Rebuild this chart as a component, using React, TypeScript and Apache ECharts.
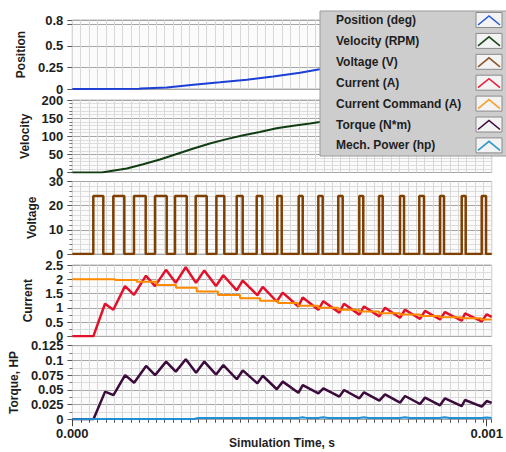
import React, { useEffect, useRef } from "react";
import * as echarts from "echarts";

// ---------- data (time in microseconds) ----------
const positionUs = [0, 160, 163, 225, 289, 352, 416, 479, 543, 590, 700, 800, 900, 1000];
const positionVal = [0, 0.002, 0.006, 0.018, 0.05, 0.077, 0.108, 0.146, 0.188, 0.23, 0.3, 0.37, 0.44, 0.52];

const velocityUs = [0, 70, 130, 169, 209, 249, 289, 328, 368, 408, 447, 487, 527, 567, 590, 700, 800, 900, 1000];
const velocityRpm = [0, 0, 11, 23, 36, 51, 66, 80, 92, 103, 112, 122, 129, 135, 139, 150, 158, 163, 167];

const pwmRiseUs = [50.1, 97.8, 147.1, 197.2, 244.9, 294.2, 343.6, 392.0, 439.7, 488.8, 539.8, 586.6, 634.2, 684.3, 731.3, 781.4, 827.4, 876.7, 928.5, 976.2];
const pwmFallUs = [73.9, 124.0, 175.0, 225.1, 272.8, 320.5, 362.4, 406.3, 453.0, 499.3, 549.4, 597.0, 644.7, 693.8, 740.1, 791.0, 838.6, 886.3, 938.0, 986.5];
const pwmHighV = 24;

const currentUs = [0, 50.1, 78.0, 97.8, 125.7, 147.1, 175.7, 197.2, 223.4, 246.5, 270.4, 294.9, 314.7, 342.6, 360.0, 392.0, 406.3, 441.1, 454.0, 487.4, 501.7, 538.9, 549.4, 586.6, 598.5, 636.6, 647.8, 684.3, 695.5, 732.0, 745.6, 781.4, 793.3, 829.1, 841.0, 876.7, 888.6, 928.5, 936.3, 976.2, 988.1, 1000];
const currentA = [0, 0, 1.14, 0.93, 1.76, 1.45, 2.125, 1.76, 2.33, 1.875, 2.42, 1.875, 2.31, 1.76, 2.14, 1.61, 1.95, 1.44, 1.73, 1.22, 1.53, 1.045, 1.36, 0.93, 1.23, 0.83, 1.14, 0.76, 1.045, 0.7, 1.0, 0.65, 0.93, 0.61, 0.89, 0.59, 0.85, 0.545, 0.8, 0.52, 0.77, 0.68];
const torqueNm = [0, 0, 0.047, 0.041, 0.075, 0.062, 0.0906, 0.075, 0.098, 0.081, 0.102, 0.079, 0.098, 0.076, 0.092, 0.068, 0.083, 0.061, 0.074, 0.051, 0.064, 0.045, 0.058, 0.044, 0.0526, 0.0385, 0.0498, 0.0356, 0.0458, 0.0317, 0.0424, 0.0283, 0.0396, 0.026, 0.0368, 0.0238, 0.0356, 0.0225, 0.0328, 0.0215, 0.031, 0.028];

const commandUs = [0, 101.8, 153.6, 201.2, 247.3, 296.6, 347.4, 399.9, 447.6, 490.5, 538.2, 586.0, 633.7, 683.6, 731.3, 781.4, 829.1, 876.7, 926.8, 974.5, 1000];
const commandA = [2.0, 1.97, 1.91, 1.8, 1.7, 1.57, 1.45, 1.33, 1.25, 1.17, 1.07, 1.0, 0.93, 0.87, 0.81, 0.76, 0.71, 0.67, 0.63, 0.59, 0.59];

const powerUs = [0, 95, 290, 300, 540, 549, 558, 586, 598, 610, 684, 695, 706, 781, 793, 805, 876, 888, 900, 976, 988, 1000];
const powerHp = [0, 0.0003, 0.0006, 0.0022, 0.0024, 0.0036, 0.0024, 0.0023, 0.0035, 0.0023, 0.0022, 0.0034, 0.0022, 0.0022, 0.0033, 0.0022, 0.0021, 0.0033, 0.0021, 0.0021, 0.0032, 0.0021];

const legendLabels = ["Position (deg)", "Velocity (RPM)", "Voltage (V)", "Current (A)", "Current Command (A)", "Torque (N*m)", "Mech. Power (hp)"];
const seriesColors = ["#1c3fd6", "#123d12", "#7f3f00", "#e3102a", "#ff8a00", "#3b0b3b", "#1f8fd6"];
const legendIconColors = ["#2a5ad8", "#1d4a1d", "#8b5a2b", "#e8203a", "#f5a030", "#3a0a3a", "#3098c8"];

const xTickLabels = ["0.000", "0.001"];

// ---------- helpers ----------
const toS = (t: number) => t * 1e-6;
const pairs = (ts: number[], vs: number[]) => ts.map((t, i) => [toS(t), vs[i]]);

const FONT = "Liberation Sans, Arial, sans-serif";
const TXT = "#1e1e1e";

export default function App() {
  const ref = useRef<HTMLDivElement>(null);

  useEffect(() => {
    document.body.style.margin = "0";
    if (!ref.current) return;
    const chart = echarts.init(ref.current, undefined, { renderer: "svg" });

    const pwmData: number[][] = [[0, 0]];
    pwmRiseUs.forEach((r, i) => {
      const f = pwmFallUs[i];
      pwmData.push([toS(r), 0], [toS(r), pwmHighV], [toS(f), pwmHighV], [toS(f), 0]);
    });
    pwmData.push([toS(1000), 0]);

    const cmdData = pairs(commandUs, commandA);

    const L = 72.3;
    const R = 506 - 491.7;
    const panels = [
      { top: 20, height: 69 },
      { top: 100, height: 72.5 },
      { top: 181.5, height: 72.5 },
      { top: 265, height: 71.3 },
      { top: 345.7, height: 73.6 },
    ];
    const grids: any[] = panels.map((p) => ({
      left: L,
      right: R,
      top: p.top,
      height: p.height,
      show: true,
      backgroundColor: "#fbfbfb",
      borderColor: "#b4b4b4",
      borderWidth: 1,
    }));
    grids.push({ left: L, right: R, top: panels[4].top, height: panels[4].height, show: false });

    const xAxes: any[] = panels.map((_, i) => ({
      gridIndex: i,
      type: "value",
      min: 0,
      max: 0.001,
      interval: 0.00002,
      axisLabel: { show: false },
      axisLine: { show: false },
      axisTick: { show: i === 4, length: 3.5, lineStyle: { color: "#555" } },
      splitLine: { show: true, lineStyle: { color: "#d8d8d8", width: 1 } },
    }));
    xAxes.push({
      gridIndex: 5,
      type: "value",
      min: 0,
      max: 0.001,
      interval: 0.001,
      axisLine: { show: false },
      axisTick: { show: true, length: 7, lineStyle: { color: "#444" } },
      splitLine: { show: false },
      axisLabel: {
        show: true,
        margin: 8,
        fontSize: 13,
        fontWeight: "bold",
        fontFamily: FONT,
        color: TXT,
        formatter: (v: number) => (v < 0.0005 ? xTickLabels[0] : xTickLabels[1]),
      },
    });

    const yCfg = [
      { name: "Position", min: 0, max: 0.8, interval: 0.25, minor: 0, gap: 29 },
      { name: "Velocity", min: 0, max: 200, interval: 50, minor: 5, gap: 24 },
      { name: "Voltage", min: 0, max: 30, interval: 10, minor: 5, gap: 18 },
      { name: "Current", min: 0, max: 2.5, interval: 0.5, minor: 2, gap: 21 },
      { name: "Torque, HP", min: 0, max: 0.125, interval: 0.025, minor: 2, gap: 36 },
    ];
    const yAxes: any[] = yCfg.map((c, i) => ({
      gridIndex: i,
      type: "value",
      min: c.min,
      max: c.max,
      interval: c.interval,
      name: c.name,
      nameLocation: "middle",
      nameGap: c.gap,
      nameTextStyle: { fontSize: 12, fontWeight: "bold", fontFamily: FONT, color: TXT },
      axisLine: { show: false },
      axisTick: { show: true, length: 5, lineStyle: { color: "#555" } },
      minorTick: { show: c.minor > 0, splitNumber: c.minor || 5, length: 3, lineStyle: { color: "#777" } },
      minorSplitLine: { show: c.minor > 0, lineStyle: { color: "#dedede" } },
      splitLine: { show: true, lineStyle: { color: "#a6a6a6" } },
      axisLabel: {
        margin: 9,
        fontSize: 13,
        fontWeight: "bold",
        fontFamily: FONT,
        color: TXT,
        formatter: (v: number) => (i === 0 && Math.abs(v - 0.75) < 1e-9 ? "" : String(v)),
      },
    }));
    yAxes.push({ gridIndex: 5, type: "value", min: 0, max: 1, show: false });

    const line = (name: string, idx: number, data: any[], color: string, width: number, extra: any = {}) => ({
      name,
      type: "line",
      xAxisIndex: idx,
      yAxisIndex: idx,
      data,
      showSymbol: false,
      symbol: "none",
      lineStyle: { color, width },
      itemStyle: { color },
      ...extra,
    });

    const series = [
      line(legendLabels[0], 0, pairs(positionUs, positionVal), seriesColors[0], 2),
      line(legendLabels[1], 1, pairs(velocityUs, velocityRpm), seriesColors[1], 2),
      line(legendLabels[2], 2, pwmData, seriesColors[2], 2.5),
      line(legendLabels[3], 3, pairs(currentUs, currentA), seriesColors[3], 2.5),
      line(legendLabels[4], 3, cmdData, seriesColors[4], 2, { step: "end" }),
      line(legendLabels[5], 4, pairs(currentUs, torqueNm), seriesColors[5], 2.5),
      line(legendLabels[6], 4, pairs(powerUs, powerHp), seriesColors[6], 2),
    ];

    const legendEls: any[] = [
      {
        type: "rect",
        shape: { x: 320, y: 11, width: 190, height: 145 },
        style: { fill: "#cdcdcd", stroke: "#9a9a9a", lineWidth: 1 },
        z: 100,
      },
    ];
    legendLabels.forEach((lab, i) => {
      const cy = 20 + i * 20.9;
      legendEls.push({
        type: "text",
        z: 101,
        style: {
          x: 336,
          y: cy,
          text: lab,
          fill: TXT,
          font: `bold 12px ${FONT}`,
          verticalAlign: "middle",
          align: "left",
        },
      });
      legendEls.push({
        type: "rect",
        z: 101,
        shape: { x: 476, y: cy - 7.5, width: 26, height: 15 },
        style: { fill: "#f3f3f3", stroke: "#8a8a8a", lineWidth: 1 },
      });
      legendEls.push({
        type: "polyline",
        z: 102,
        shape: { points: [[478, cy + 5], [489, cy - 4], [500, cy + 5]] },
        style: { stroke: legendIconColors[i], lineWidth: 1.6, fill: null },
      });
    });
    legendEls.push({
      type: "text",
      z: 101,
      style: {
        x: 282,
        y: 437,
        text: "Simulation Time, s",
        fill: TXT,
        font: `bold 12px ${FONT}`,
        align: "center",
        verticalAlign: "top",
      },
    });

    chart.setOption({
      animation: false,
      backgroundColor: "#ffffff",
      grid: grids,
      xAxis: xAxes,
      yAxis: yAxes,
      series,
      graphic: legendEls,
    });

    return () => chart.dispose();
  }, []);

  return (
    <div
      ref={ref}
      style={{ position: "fixed", left: 0, top: 0, width: 506, height: 452 }}
    />
  );
}
